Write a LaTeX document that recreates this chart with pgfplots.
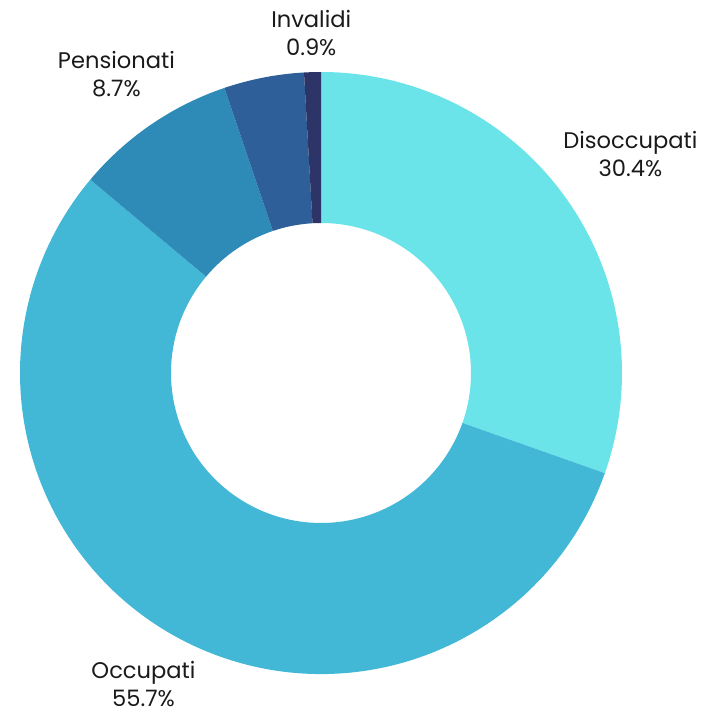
\documentclass[border=0pt]{standalone}
\usepackage{pgfplots}
\pgfplotsset{compat=1.18}
\usepackage{pgfplotstable}
\usepackage{fontspec}
\setmainfont{Poppins}

\definecolor{c1}{HTML}{6AE4E8}
\definecolor{c2}{HTML}{42B8D6}
\definecolor{c3}{HTML}{2E8BB8}
\definecolor{c4}{HTML}{2E5F98}
\definecolor{c5}{HTML}{2C3468}
\definecolor{txt}{HTML}{1A1A1A}

% slices clockwise from 12 o'clock; dist = label distance (pt)
\pgfplotstableread{
name        value col show dist
Disoccupati 30.4  c1  1    167.5
Occupati    55.7  c2  1    164.5
Pensionati  8.7   c3  1    165.5
Altro       4.3   c4  0    160
Invalidi    0.9   c5  1    157.5
}\datatable

\begin{document}
\begin{tikzpicture}
\begin{axis}[
    hide axis,
    scale only axis,
    x=0.5pt, y=0.5pt,
    xmin=0, xmax=704, ymin=0, ymax=713,
    clip=false,
]
\path (axis cs:0,0) rectangle (axis cs:704,713);
\pgfplotstablegetrowsof{\datatable}
\pgfmathtruncatemacro\nrows{\pgfplotsretval-1}
\def\cum{0}
\pgfplotsforeachungrouped \i in {0,...,\nrows}{
  \pgfplotstablegetelem{\i}{value}\of\datatable \let\val\pgfplotsretval
  \pgfplotstablegetelem{\i}{col}\of\datatable \let\col\pgfplotsretval
  \pgfplotstablegetelem{\i}{name}\of\datatable \let\nm\pgfplotsretval
  \pgfplotstablegetelem{\i}{show}\of\datatable \let\shw\pgfplotsretval
  \pgfplotstablegetelem{\i}{dist}\of\datatable \let\dst\pgfplotsretval
  \pgfmathsetmacro\a{90-3.6*\cum}
  \pgfmathsetmacro\b{90-3.6*(\cum+\val)}
  \pgfmathsetmacro\m{(\a+\b)/2}
  \pgfmathsetmacro\anc{\m+180}
  \edef\cmd{\noexpand\fill[\col] ([shift={(\a:150.5pt)}]axis cs:321,340)
    arc[start angle=\a, end angle=\b, radius=150.5pt]
    -- ([shift={(\b:75pt)}]axis cs:321,340)
    arc[start angle=\b, end angle=\a, radius=75pt] -- cycle;}
  \cmd
  \ifnum\shw=1
    \edef\cmd{\noexpand\node[anchor=\anc, align=center, text=txt,
      font=\noexpand\fontsize{11.3}{14}\noexpand\selectfont, inner sep=1pt]
      at ([shift={(\m:\dst pt)}]axis cs:321,340) {\nm\noexpand\\\val\noexpand\%};}
    \cmd
  \fi
  \pgfmathsetmacro\cum{\cum+\val}
}
\end{axis}
\end{tikzpicture}
\end{document}
